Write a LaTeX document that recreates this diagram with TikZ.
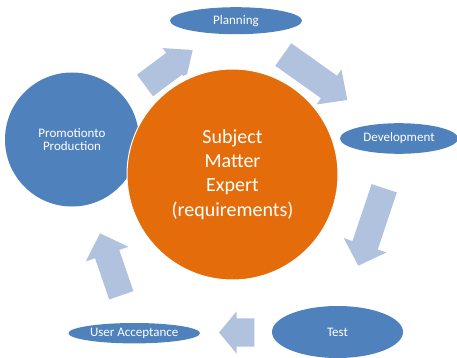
\documentclass[tikz,border=0pt]{standalone}
\usepackage{fontspec}
\setmainfont{Carlito}
\usetikzlibrary{calc,shapes.geometric}
\definecolor{stageblue}{HTML}{4F81BD}
\definecolor{smeorange}{HTML}{E46C0A}
\definecolor{flowblue}{HTML}{B0C2DE}

% Block arrow from #1 (tail centre) to #2 (tip);
% #3 half shaft width, #4 half head width, #5 head length.
\newcommand\blockarrow[5]{%
  \fill[flowblue] let \p1=($(#2)-(#1)$), \n1={atan2(\y1,\x1)} in
    ($(#1)+(\n1+90:#3)$)
    -- ($(#2)+(\n1+180:#5)+(\n1+90:#3)$)
    -- ($(#2)+(\n1+180:#5)+(\n1+90:#4)$)
    -- (#2)
    -- ($(#2)+(\n1+180:#5)+(\n1-90:#4)$)
    -- ($(#2)+(\n1+180:#5)+(\n1-90:#3)$)
    -- ($(#1)+(\n1-90:#3)$)
    -- cycle;}

\tikzset{
  stage/.style={ellipse, fill=stageblue, text=white, inner sep=0pt,
    font=\fontsize{13}{14}\selectfont},
  bigstage/.style={circle, fill=stageblue, text=white, inner sep=0pt,
    align=center, font=\fontsize{13}{13.5}\selectfont},
  smebox/.style={circle, fill=smeorange, draw=white, line width=1pt,
    text=white, inner sep=0pt, align=center,
    font=\fontsize{20}{24.3}\selectfont}
}

\begin{document}
\begin{tikzpicture}[x=1pt, y=-1pt]
  \useasboundingbox (0,0) rectangle (457,358);
  \clip (0,0) rectangle (457,358);

  % arrow end points
  \coordinate (a1s) at (145,85.5);    \coordinate (a1e) at (192.7,50);
  \coordinate (a2s) at (283.3,54.5);  \coordinate (a2e) at (347.3,100);
  \coordinate (a3s) at (384.2,188.3); \coordinate (a3e) at (358.3,265.7);
  \coordinate (a4s) at (254.3,332.5); \coordinate (a4e) at (219,332.5);
  \coordinate (a5s) at (121.3,295.3); \coordinate (a5e) at (100,233.3);

  \blockarrow{a1s}{a1e}{13.5pt}{19.5pt}{23pt}
  \blockarrow{a2s}{a2e}{13.8pt}{21.5pt}{22.5pt}
  \blockarrow{a3s}{a3e}{13.3pt}{22.5pt}{21.5pt}
  \blockarrow{a4s}{a4e}{14.2pt}{21.2pt}{17.7pt}
  \blockarrow{a5s}{a5e}{12.8pt}{22.5pt}{22pt}

  % centre of the subject matter expert circle and its white gap
  \coordinate (smec) at (232.5,174.5);
  \fill[white] (smec) circle[radius=110pt];

  \node[stage, minimum width=132pt, minimum height=27pt] (plan) at (236,20.7) {Planning};
  \node[stage, minimum width=118pt, minimum height=30.6pt] (dev) at (399,138.5) {Development};
  \node[stage, minimum width=131pt, minimum height=52pt] (test) at (337.5,332) {Test};
  \node[stage, minimum width=131.6pt, minimum height=20.4pt] (ua) at (134.2,333.2) {User Acceptance};
  \node[bigstage, minimum size=134pt] (promo) at (72,139.5) {Promotionto\\Production};

  \node[smebox, minimum size=211pt] (sme) at (smec) {Subject\\Matter\\Expert\\(requirements)};
\end{tikzpicture}
\end{document}
